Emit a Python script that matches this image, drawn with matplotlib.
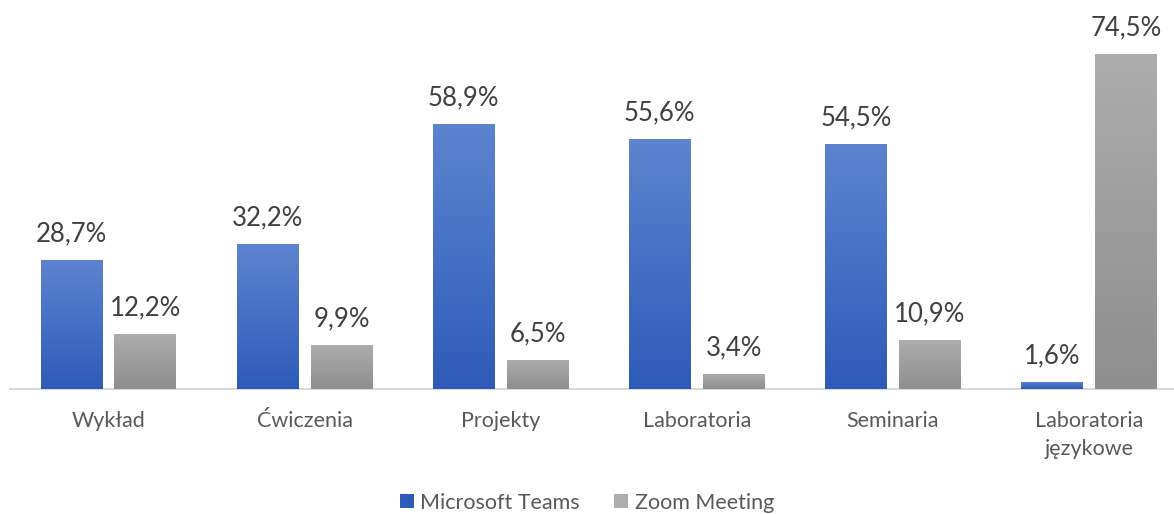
import numpy as np
import matplotlib.pyplot as plt
from matplotlib.patches import Patch
from matplotlib.colors import LinearSegmentedColormap

# ---- data ----
categories = ['Wykład', 'Ćwiczenia', 'Projekty', 'Laboratoria', 'Seminaria', 'Laboratoria\njęzykowe']
teams = [28.7, 32.2, 58.9, 55.6, 54.5, 1.6]
zoom = [12.2, 9.9, 6.5, 3.4, 10.9, 74.5]
series_names = ['Microsoft Teams', 'Zoom Meeting']

plt.rcParams['font.family'] = ['Lato', 'DejaVu Sans']

blue_top, blue_bot = '#5C84CF', '#2E5BB9'
grey_top, grey_bot = '#ADADAD', '#8E8E8E'

fig = plt.figure(figsize=(11.74, 5.14), dpi=100)
ax = fig.add_axes([0.0089, 0.243, 1.0022, 0.744])

x = np.arange(len(categories))
w = 0.316
gap = 0.061
b1 = ax.bar(x - (w + gap) / 2, teams, w, color=blue_bot, zorder=2)
b2 = ax.bar(x + (w + gap) / 2, zoom, w, color=grey_bot, zorder=2)

# gradient fill on each bar
def grad_fill(bars, top, bot):
    cmap = LinearSegmentedColormap.from_list('g', [bot, top])
    grad = np.linspace(0, 1, 256).reshape(-1, 1)
    for b in bars:
        x0, y0 = b.get_x(), b.get_y()
        im = ax.imshow(grad, cmap=cmap, aspect='auto', origin='lower',
                       extent=[x0, x0 + b.get_width(), y0, y0 + b.get_height()], zorder=3)
        im.set_clip_path(b)

grad_fill(b1, blue_top, blue_bot)
grad_fill(b2, grey_top, grey_bot)
ax.set_xlim(-0.5, len(categories) - 0.5)
ax.set_ylim(0, 85)

def fmt(v):
    return ('%.1f%%' % v).replace('.', ',')

for bars, vals in [(b1, teams), (b2, zoom)]:
    for b, v in zip(bars, vals):
        ax.text(b.get_x() + b.get_width() / 2, v + 3.0, fmt(v), ha='center', va='bottom',
                fontsize=18.5, color='#404040', clip_on=False, zorder=4)

for s in ['top', 'right', 'left']:
    ax.spines[s].set_visible(False)
ax.spines['bottom'].set_color('#D9D9D9')
ax.spines['bottom'].set_linewidth(1.5)
ax.set_yticks([])
ax.set_xticks(x)
ax.set_xticklabels(categories, fontsize=15.5, color='#595959', linespacing=1.45)
ax.tick_params(axis='x', length=0, pad=16)

handles = [Patch(facecolor=blue_bot, edgecolor='none'), Patch(facecolor=grey_top, edgecolor='none')]
fig.legend(handles, series_names, loc='center', bbox_to_anchor=(0.5, 0.022), ncol=2, frameon=False,
           fontsize=15.5, handlelength=0.65, handleheight=0.65, handletextpad=0.3, columnspacing=1.6,
           labelcolor='#595959')

fig.savefig('out.png', dpi=100)
